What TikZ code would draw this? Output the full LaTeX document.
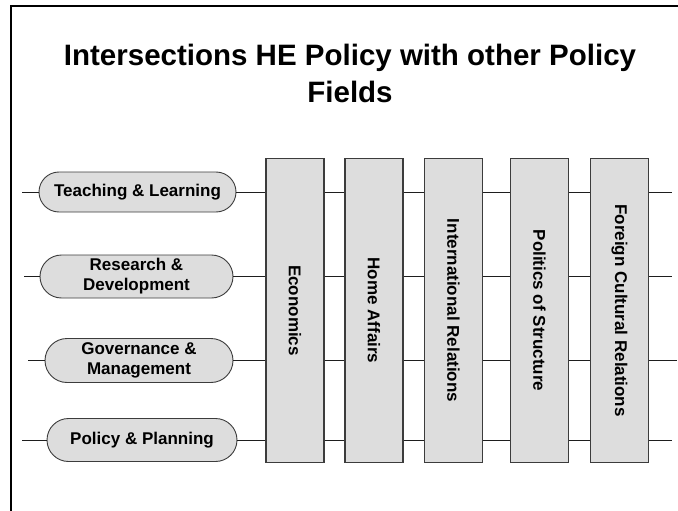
\documentclass[tikz,border=0pt]{standalone}
\usepackage{fontspec}
\setmainfont{Liberation Sans}
\usetikzlibrary{shapes.misc}
\definecolor{panel}{HTML}{DDDDDD}
\definecolor{edge}{HTML}{3C3C3C}
\definecolor{wire}{HTML}{1E1E1E}
\begin{document}
\begin{tikzpicture}[x=1pt,y=-1pt,
  frameline/.style={line width=2.2pt,black},
  pill/.style={rounded rectangle, draw=edge, fill=panel, line width=0.9pt,
    inner sep=0pt, align=center, font=\bfseries\fontsize{17}{20}\selectfont},
  fieldbox/.style={draw=edge, fill=panel, line width=1.1pt, minimum width=58pt,
    minimum height=304pt, inner sep=0pt, anchor=north},
  fieldlabel/.style={rotate=-90, font=\bfseries\fontsize{17}{20}\selectfont},
  rowline/.style={wire, line width=0.9pt}]
\useasboundingbox (0,0) rectangle (678,511);
% page frame (top and left edges only)
\draw[frameline] (11,511.5) -- (11,6) -- (678.5,6);
% title
\node[font=\bfseries\fontsize{29.5}{37}\selectfont, align=center] (title) at (350,73)
  {Intersections HE Policy with other Policy\\Fields};
% policy fields
\node[fieldbox] (eco) at (295,158) {};
\node[fieldbox] (home) at (374,158) {};
\node[fieldbox] (intl) at (453.5,158) {};
\node[fieldbox] (pol) at (539.5,158) {};
\node[fieldbox] (fcr) at (619.5,158) {};
\node[fieldlabel] at (eco.center) {Economics};
\node[fieldlabel] at (home.center) {Home Affairs};
\node[fieldlabel] at (intl.center) {International Relations};
\node[fieldlabel] at (pol.center) {Politics of Structure};
\node[fieldlabel] at (fcr.center) {Foreign Cultural Relations};
% HE activities
\node[pill, minimum width=197pt, minimum height=40pt] (tl) at (137.5,192) {Teaching \& Learning};
\node[pill, minimum width=193pt, minimum height=43pt] (rd) at (136.5,276.5) {Research \&\\Development};
\node[pill, minimum width=188pt, minimum height=44pt] (gm) at (139,360.5) {Governance \&\\Management};
\node[pill, minimum width=190pt, minimum height=43pt] (pp) at (142,440) {Policy \& Planning};
% free ends of the row lines
\coordinate (tlL) at (22,192);   \coordinate (tlR) at (672,192);
\coordinate (rdL) at (24,276.5); \coordinate (rdR) at (672,276.5);
\coordinate (gmL) at (28,360.5); \coordinate (gmR) at (677,360.5);
\coordinate (ppL) at (22,440);   \coordinate (ppR) at (672,440);
% row lines threading through the policy fields
\foreach \r in {tl,rd,gm,pp}{
  \draw[rowline] (\r L) -- (\r.west);
  \draw[rowline] (\r.east) -- (\r.east -| eco.west);
  \draw[rowline] (\r.east -| eco.east) -- (\r.east -| home.west);
  \draw[rowline] (\r.east -| home.east) -- (\r.east -| intl.west);
  \draw[rowline] (\r.east -| intl.east) -- (\r.east -| pol.west);
  \draw[rowline] (\r.east -| pol.east) -- (\r.east -| fcr.west);
  \draw[rowline] (\r.east -| fcr.east) -- (\r R);
}
\end{tikzpicture}
\end{document}
